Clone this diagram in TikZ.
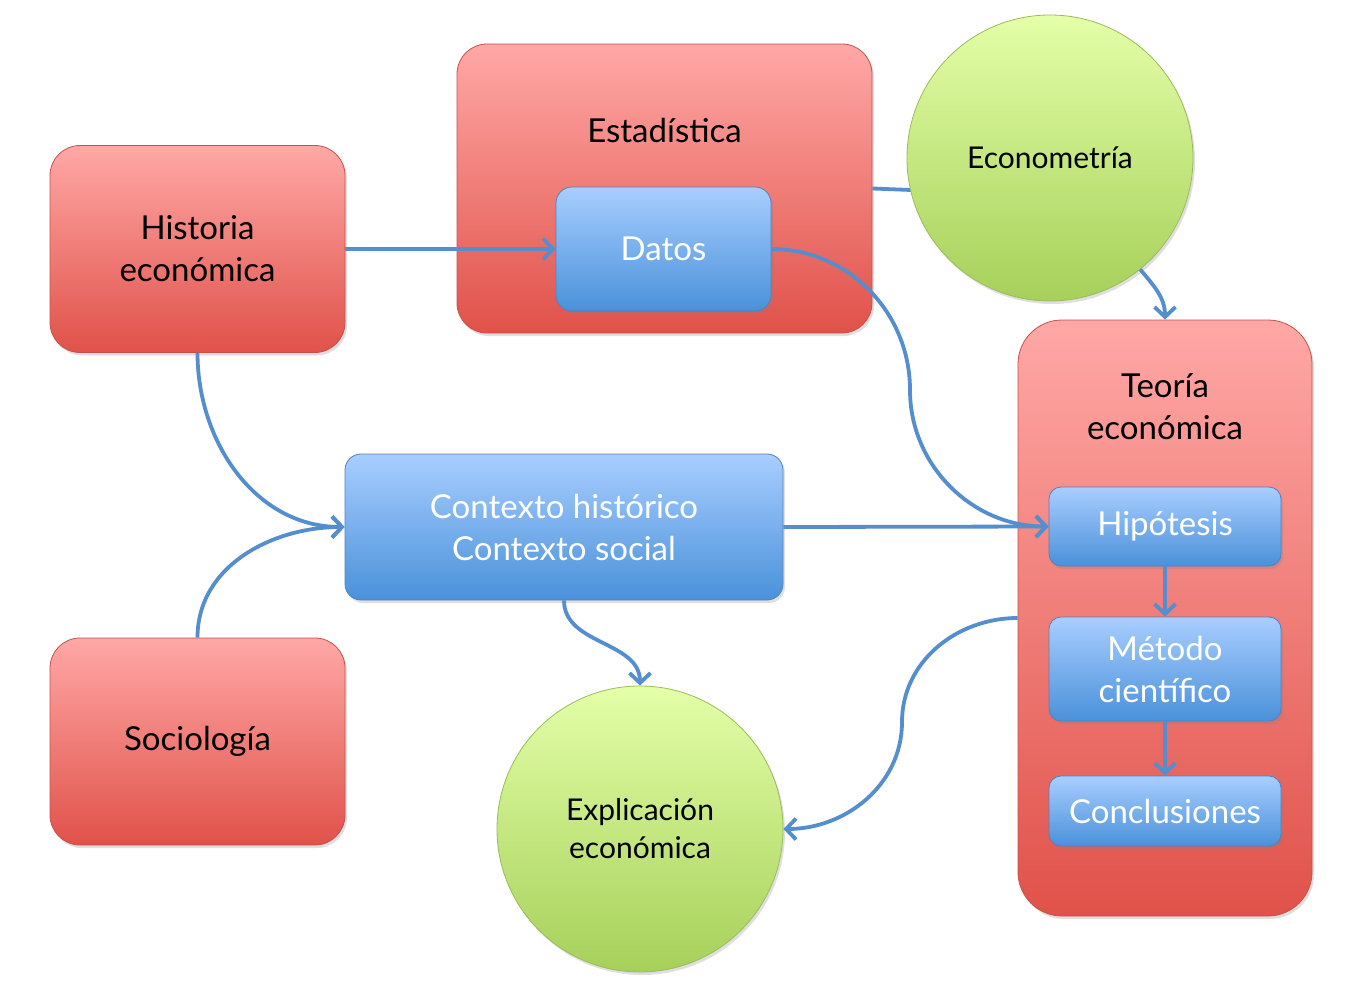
\documentclass[tikz,border=0pt]{standalone}
\usepackage{fontspec}
\setmainfont{Lato}
\usetikzlibrary{arrows.meta,shadows}
\definecolor{redtop}{RGB}{255,168,166}
\definecolor{redbot}{RGB}{224,82,74}
\definecolor{redline}{RGB}{200,80,76}
\definecolor{bluetop}{RGB}{168,206,255}
\definecolor{bluebot}{RGB}{74,145,218}
\definecolor{blueline}{RGB}{80,130,190}
\definecolor{greentop}{RGB}{228,255,168}
\definecolor{greenbot}{RGB}{166,208,90}
\definecolor{greenline}{RGB}{155,187,89}
\definecolor{link}{RGB}{84,142,206}
\begin{document}
\begin{tikzpicture}[x=1pt,y=-1pt,>={Straight Barb[length=10pt,width=21pt]}]
\tikzstyle{shade}=[drop shadow={opacity=0.25,shadow xshift=2pt,shadow yshift=-3pt}]
\tikzstyle{redbox}=[rectangle,rounded corners=30pt,top color=redtop,bottom color=redbot,draw=redline,line width=0.8pt,shade,align=center,font=\fontsize{33}{42}\selectfont]
\tikzstyle{bluebox}=[rectangle,rounded corners=16pt,top color=bluetop,bottom color=bluebot,draw=blueline,line width=0.8pt,shade,align=center,text=white,font=\fontsize{33}{42}\selectfont]
\tikzstyle{greenball}=[circle,top color=greentop,bottom color=greenbot,draw=greenline,line width=0.8pt,shade,align=center,minimum size=286pt,font=\fontsize{30}{38}\selectfont]
\tikzstyle{con}=[draw=link,line width=3.8pt]
\useasboundingbox (0,0) rectangle (1361,993);
% big boxes
\node[redbox,minimum width=295pt,minimum height=207pt] (hist) at (197.5,249) {Historia\\econ\'omica};
\node[redbox,minimum width=295pt,minimum height=207pt] (socio) at (197.5,741.5) {Sociolog\'ia};
\node[redbox,minimum width=415pt,minimum height=289pt] (estad) at (664.5,188.5) {};
\node[font=\fontsize{33}{42}\selectfont] (estadt) at (664.5,130) {Estad\'istica};
\node[redbox,rounded corners=44pt,minimum width=294pt,minimum height=596pt] (teoria) at (1165,618) {};
\node[font=\fontsize{33}{42}\selectfont,align=center] (teoriat) at (1165,407) {Teor\'ia\\econ\'omica};
% link behind the circle
\draw[con] (estad.east) -- (1050-139,190) coordinate (ejoin);
% circles
\node[greenball] (econ) at (1050,158) {Econometr\'ia};
\node[greenball] (expl) at (640,829) {Explicaci\'on\\econ\'omica};
% blue boxes
\node[bluebox,minimum width=215pt,minimum height=124pt] (datos) at (663.5,249) {Datos};
\node[bluebox,minimum width=438pt,minimum height=146pt] (ctx) at (564,527) {Contexto hist\'orico\\Contexto social};
\node[bluebox,rounded corners=12pt,minimum width=232pt,minimum height=79pt] (hip) at (1165,526.5) {Hip\'otesis};
\node[bluebox,rounded corners=12pt,minimum width=232pt,minimum height=104pt] (met) at (1165,669) {M\'etodo\\cient\'ifico};
\node[bluebox,rounded corners=12pt,minimum width=232pt,minimum height=70pt] (concl) at (1165,811) {Conclusiones};
% connectors
\coordinate (dmid) at (910,390);
\coordinate (tmid) at (902,722);
\draw[con,->] (hist.east) -- (datos.west);
\draw[con,->] (hist.south) to[out=-90,in=180] (ctx.west);
\draw[con,->] (socio.north) to[out=90,in=180] (ctx.west);
\draw[con,->] (datos.east) to[out=0,in=90] (dmid) to[out=-90,in=180] (hip.west);
\draw[con,->] (ctx.east) -- (hip.west);
\draw[con,->] (ctx.south) to[out=-90,in=90] (expl.north);
\draw[con,->] (teoria.west) to[out=180,in=90] (tmid) to[out=-90,in=0] (expl.east);
\draw[con,->] (econ.-51) to[out=-50,in=90] (teoria.north);
\draw[con,->] (hip.south) -- (met.north);
\draw[con,->] (met.south) -- (concl.north);
\end{tikzpicture}
\end{document}
